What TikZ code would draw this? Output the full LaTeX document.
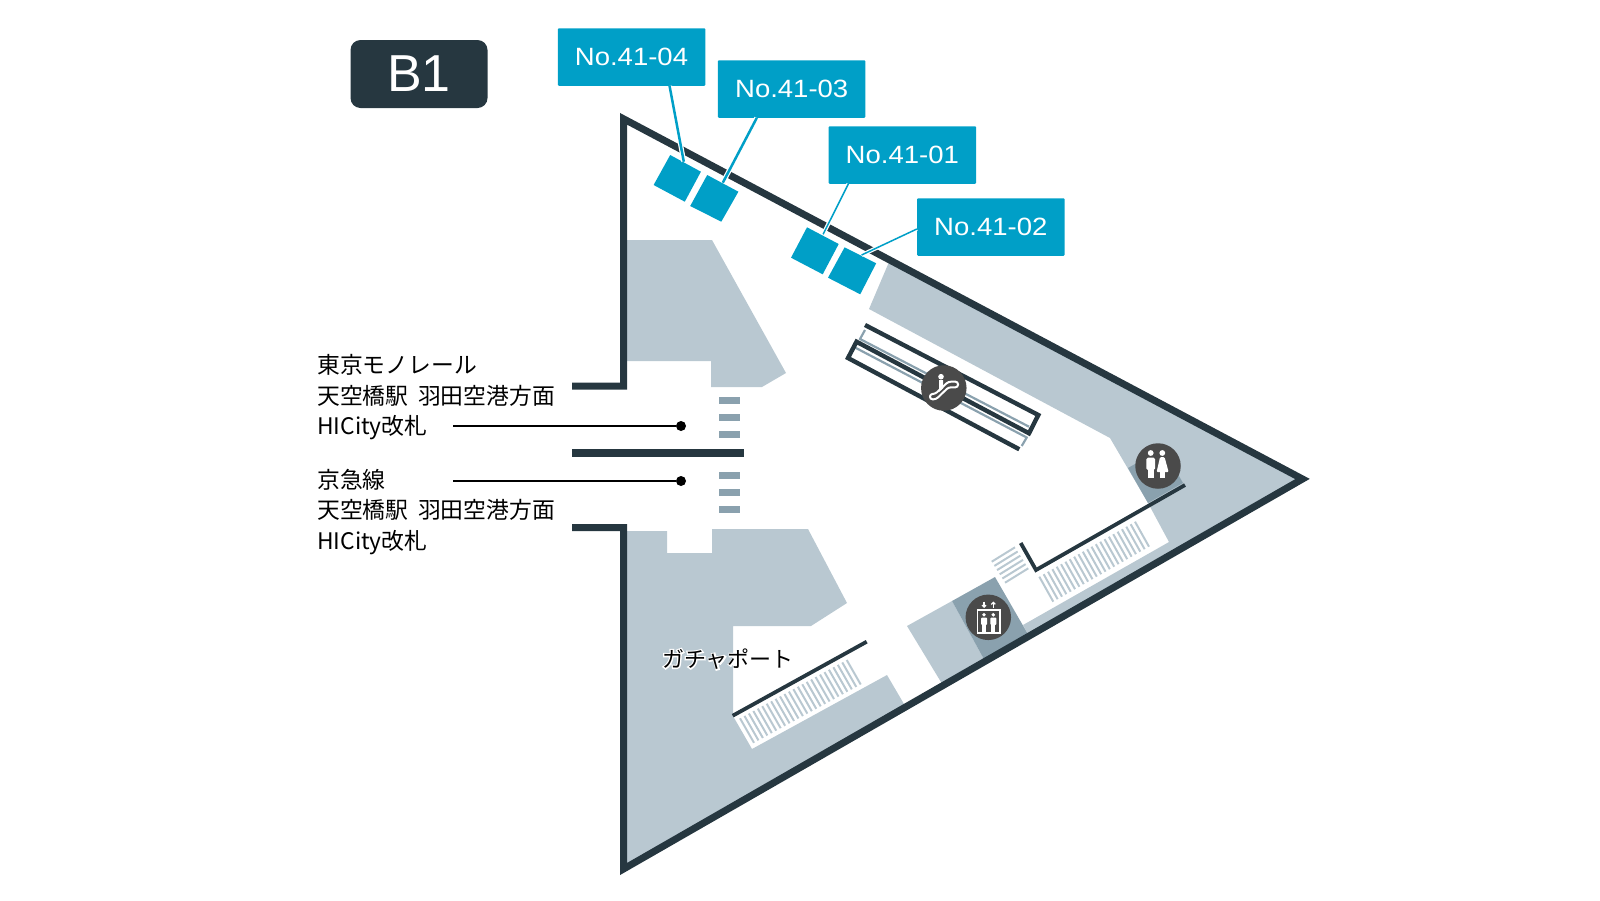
\documentclass[tikz,border=0pt]{standalone}
\usepackage{fontspec}
\usetikzlibrary{arrows.meta}
\setmainfont{Liberation Sans}
\newfontfamily\jpfont{Noto Sans CJK JP}
\newfontfamily\halofont[FakeBold=12]{Noto Sans CJK JP}
\newfontfamily\shopfont[FakeStretch=1.1]{Liberation Sans}
\newcommand{\halotext}[1]{\rlap{\color{white}\halofont #1}{\jpfont #1}}
\definecolor{wall}{HTML}{263740}
\definecolor{area}{HTML}{B9C8D1}
\definecolor{areadark}{HTML}{8AA1AE}
\definecolor{shop}{HTML}{009FC7}
\definecolor{icon}{HTML}{4A4A4A}

\begin{document}
\begin{tikzpicture}[x=1pt,y=-1pt,
  wallline/.style={draw=wall,line width=7pt,miter limit=10},
  thinwall/.style={draw=wall,line width=3.8pt},
  stripline/.style={draw=area,line width=2pt},
  rail/.style={draw=areadark,line width=2.2pt},
  shopbox/.style={fill=shop,text=white,minimum width=147.5pt,minimum height=57.5pt,inner sep=0pt,rounded corners=1pt,font=\shopfont\fontsize{25}{25}\selectfont},
  leader/.style={draw=shop,preaction={draw=white,line width=#1+2.4pt},line width=#1},
  railnote/.style={anchor=north west,align=left,inner sep=0pt,font=\jpfont\fontsize{22.8}{30.5}\selectfont},
  pindot/.style={circle,fill=black,minimum size=10pt,inner sep=0pt},
  iconw/.style={draw=white,line width=1.6pt},
  badge/.style={circle,fill=icon,minimum size=45.5pt,inner sep=0pt}]
\useasboundingbox (0,0) rectangle (1600,900);

% floor areas

\fill[area] (627,240) -- (712,240) -- (786,373) -- (762,387) -- (711,387) -- (711,361) -- (627,361) -- cycle;
\fill[area] (889,262) -- (869,309) -- (1110,438) -- (1148,503) -- (1169,542) -- (1023,625) -- (1029,636) -- (1302,479) -- cycle;
\fill[area] (623,531) -- (667,531) -- (667,553) -- (712,553) -- (712,529) -- (808,529) -- (847,603) -- (811,626) -- (733,626) -- (733,716) -- (752,749) -- (887,675) -- (904,704) -- (906,707) -- (623,869) -- cycle;
\fill[area] (952,601) -- (907,626) -- (944,687) -- (986,663) -- cycle;

\fill[areadark] (995,577) -- (952,601) -- (986,663) -- (1029,636) -- cycle;
\fill[areadark] (1128,468) -- (1148,503) -- (1183,483) -- (1163,448) -- cycle;

% stairs

\foreach \i in {0,...,22}
{
  \draw[stripline] ({1039.3+\i*4.35},{576.7-\i*2.5}) -- +(14,25);
}
\foreach \i in {0,...,24}
{
  \draw[stripline] ({740+\i*4.446},{718.3-\i*2.43}) -- +(14,24.5);
}
\foreach \i in {0,...,5}
{
  \draw[stripline] ({991.7+\i*2.66},{561.7+\i*4.2}) -- +(23.3,-14.4);
}
\foreach \y in {397,414,431,472,489,506}
{
  \fill[areadark] (719,\y) rectangle +(21,7.3);
}

% outer walls

\coordinate (t1) at (623.5,118.8);
\coordinate (t2) at (1302.5,479);
\coordinate (t3) at (623.5,869);
\draw[wallline] (572,386) -- (623.5,386) -- (t1) -- (t2) -- (t3) -- (623.5,527.5) -- (572,527.5);
\draw[wallline,line width=7.6pt] (572,453) -- (744,453);

% inner walls

\draw[thinwall] (1185,485) -- (1036,570) -- (1020.7,543);
\draw[thinwall] (866.7,641.7) -- (732.7,715.7);

% escalators

\draw[rail] (865,330) -- (860,339) -- (1029,426.7);
\draw[rail] (855,347.5) -- (1026.7,437.5) -- (1021.7,446);
\draw[thinwall,line width=4.4pt] (865,325) -- (1038.3,415) -- (1029,433.3) -- (856.5,341.7) -- (848,358) -- (1019.3,449.3);

% shops

\fill[shop] (670.2,155) -- (700.9,171.7) -- (684.8,201.7) -- (653.6,185) -- cycle;
\fill[shop] (707.2,175) -- (738.4,191.7) -- (721.3,221.7) -- (690.2,206) -- cycle;
\fill[shop] (807,227.3) -- (838.7,244) -- (822.7,274.3) -- (791,257.7) -- cycle;
\fill[shop] (844.6,247.3) -- (876.2,263.3) -- (860.2,294.3) -- (828,277.7) -- cycle;

\coordinate (s4) at (683.8,161.7);
\coordinate (s3) at (722.8,182.7);
\coordinate (s1) at (823.1,234.3);
\coordinate (s2) at (861.6,255);

\node[shopbox] (no4) at (631.5,57) {No.41-04};
\node[shopbox] (no3) at (791.7,89) {No.41-03};
\node[shopbox] (no1) at (902.3,155) {No.41-01};
\node[shopbox] (no2) at (990.8,227) {No.41-02};

\draw[leader=2.5pt] ([xshift=112pt]no4.south west) -- (s4);
\draw[leader=2.5pt] ([xshift=39pt]no3.south west) -- (s3);
\draw[leader=1.5pt] ([xshift=20pt]no1.south west) -- (s1);
\draw[leader=1.5pt] ([yshift=-2pt]no2.west) -- (s2);

% floor badge

\node[fill=wall,text=white,rounded corners=10pt,minimum width=137pt,minimum height=68pt,inner sep=0pt,font=\fontsize{52}{52}\selectfont] (floor) at (419,74) {B1};

% labels

\node[railnote] (monorail) at (317,354.6) {東京モノレール\\天空橋駅 \kern.2em羽田空港方面\\HICity改札};
\node[railnote] (keikyu) at (317,468.6) {京急線\\天空橋駅 \kern.2em羽田空港方面\\HICity改札};
\node[font=\fontsize{22}{22}\selectfont,inner sep=0pt] (gacha) at (728,659) {\halotext{ガチャポート}};

\coordinate (m1) at (453,426);
\coordinate (k1) at (453,481);
\node[pindot] (m2) at (681,426) {};
\node[pindot] (k2) at (681,481) {};
\draw[line width=1.5pt] (m1) -- (m2);
\draw[line width=1.5pt] (k1) -- (k2);

% escalator icon

\node[badge] (esc) at (943.8,388) {};
\fill[white] (941,376.7) circle (2.8pt);
\fill[white] (939,380) -- (943,380) -- (943,388.5) -- (939,392) -- cycle;
\draw[iconw,line width=2pt,rounded corners=2.5pt] (930,399.3) -- (936,399.3) -- (948.5,387.3) -- (958,387.3) -- (958,381.7) -- (948.3,381.7) -- (935,394) -- (930,394) -- cycle;

% toilet icon

\node[badge] (wc) at (1158,466) {};
\fill[white] (1150.7,453) circle (2.9pt);
\fill[white] (1162.3,453) circle (2.9pt);
\fill[white,rounded corners=1.5pt] (1146.3,457.7) rectangle (1155,470);
\fill[white] (1147.8,469) rectangle (1153.6,477.7);
\fill[white,rounded corners=1pt] (1160,457.2) -- (1164.6,457.2) -- (1168.6,472) -- (1156.6,472) -- cycle;
\fill[white] (1159.8,471) rectangle (1164.8,477.7);

% elevator icon

\node[badge] (ev) at (988.3,617.3) {};
\draw[iconw] (977.3,610) rectangle (1000,632.7);
\draw[white,line width=1.2pt,-{Straight Barb[length=2pt,width=4pt]}] (984,601.5) -- (984,608);
\draw[white,line width=1.2pt,-{Straight Barb[length=2pt,width=4pt]}] (993.3,608) -- (993.3,601.5);
\foreach \x in {984,993.3}
{
  \fill[white] (\x,614.8) circle (1.9pt);
  \fill[white,rounded corners=1pt] (\x-3,617.5) rectangle (\x+3,625);
  \fill[white] (\x-2,624) rectangle (\x+2,631.5);
}

\end{tikzpicture}
\end{document}
